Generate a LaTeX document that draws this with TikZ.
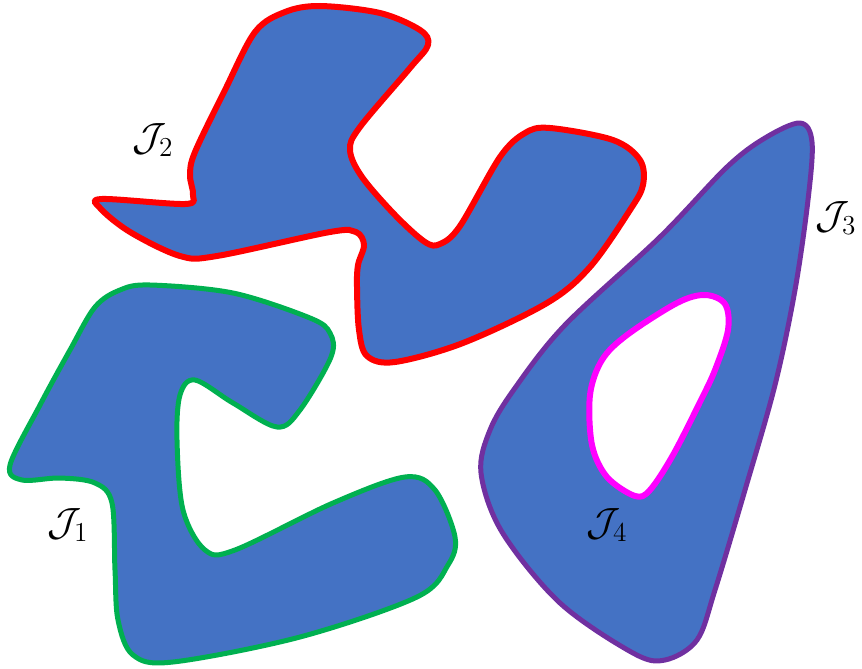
\documentclass[tikz,border=0pt]{standalone}
\usepackage{amsmath}
\usepackage{amssymb}
\usepackage{tikz}
\usetikzlibrary{positioning}
\definecolor{regionfill}{HTML}{4472C4}
\definecolor{edgeone}{HTML}{00B050}
\definecolor{edgetwo}{HTML}{FF0000}
\definecolor{edgethree}{HTML}{7030A0}
\definecolor{edgefour}{HTML}{FF00FF}

\begin{document}
\begin{tikzpicture}[
  x=1pt, y=-1pt,
  region/.style={fill=regionfill, line width=5pt, line join=round},
  curvelabel/.style={font=\huge, scale=1.9, inner sep=0pt}
]
  \useasboundingbox (0,0) rectangle (862,669);

  % J1, green
  \filldraw[region, draw=edgeone] plot[smooth cycle, tension=0.55] coordinates {
    (150,285) (233,293) (310,318) (330,333) (331,357) (300,410) (277,427)
    (233,403) (195,380) (180,395) (177,440) (183,510) (205,550) (235,550)
    (333,503) (405,477) (435,490) (455,537) (448,565) (417,597) (300,637)
    (173,662) (133,655) (118,620) (115,570) (112,503) (95,483) (60,478)
    (22,480) (10,465) (40,405) (70,350) (95,307) (120,290)};

  % J2, red
  \filldraw[region, draw=edgetwo, line width=6pt] plot[smooth cycle, tension=0.55] coordinates {
    (102,199) (185,204) (193,195) (190,175) (195,152) (225,90) (255,32)
    (285,12) (320,6) (380,13) (420,30) (428,45) (410,68) (360,127)
    (350,150) (362,177) (395,215) (425,242) (440,244) (460,226) (500,157)
    (525,133) (550,128) (613,140) (640,160) (643,185) (630,210) (590,267)
    (547,303) (463,343) (395,362) (367,356) (359,330) (357,287) (358,265)
    (364,245) (356,232) (330,232) (217,256) (180,256) (130,232) (100,208)};

  % J3 with the hole J4
  \fill[regionfill, even odd rule]
    plot[smooth cycle, tension=0.55] coordinates {
      (800,123) (812,142) (808,200) (795,290) (775,385) (745,490) (715,590)
      (697,640) (665,660) (633,653) (560,603) (502,532) (481,473) (490,430)
      (515,388) (565,325) (660,237) (727,167) (765,138)}
    plot[smooth cycle, tension=0.55] coordinates {
      (705,295) (725,304) (728,330) (715,370) (700,402) (673,455) (650,490)
      (635,496) (607,477) (592,445) (590,395) (602,360) (627,335) (677,303)};
  \draw[line width=5pt, edgethree, line join=round] plot[smooth cycle, tension=0.55] coordinates {
    (800,123) (812,142) (808,200) (795,290) (775,385) (745,490) (715,590)
    (697,640) (665,660) (633,653) (560,603) (502,532) (481,473) (490,430)
    (515,388) (565,325) (660,237) (727,167) (765,138)};
  \draw[line width=6pt, edgefour, line join=round] plot[smooth cycle, tension=0.55] coordinates {
    (705,295) (725,304) (728,330) (715,370) (700,402) (673,455) (650,490)
    (635,496) (607,477) (592,445) (590,395) (602,360) (627,335) (677,303)};

  % labels
  \node[curvelabel] (lab1) at (68,525) {$\mathcal{J}_1$};
  \node[curvelabel] (lab2) at (153,140) {$\mathcal{J}_2$};
  \node[curvelabel] (lab3) at (836,218) {$\mathcal{J}_3$};
  \node[curvelabel] (lab4) at (607,525) {$\mathcal{J}_4$};
\end{tikzpicture}
\end{document}
